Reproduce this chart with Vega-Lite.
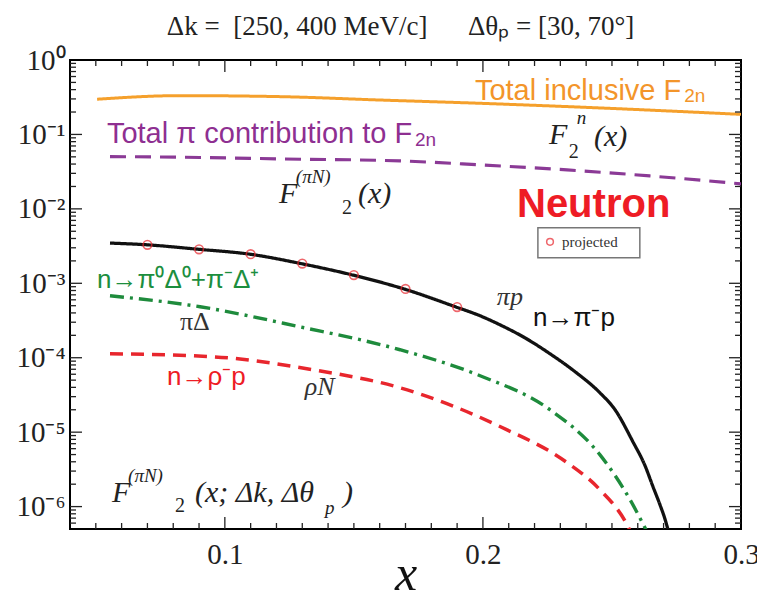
{
  "$schema": "https://vega.github.io/schema/vega-lite/v6.json",
  "width": 671,
  "height": 469,
  "autosize": "none",
  "padding": {"left": 70, "top": 60, "right": 16, "bottom": 65},
  "background": "white",
  "config": {"view": {"stroke": "black", "strokeWidth": 2}},
  "title": {
    "text": "Δk =\u00a0\u00a0[250, 400 MeV/c]\u00a0\u00a0\u00a0\u00a0\u00a0\u00a0Δθₚ = [30, 70°]",
    "font": "Liberation Serif", "fontSize": 27, "fontWeight": "normal", "color": "#222",
    "anchor": "middle", "frame": "group", "offset": 5, "dx": -5
  },
  "resolve": {"axis": {"x": "independent", "y": "independent"}},
  "datasets": {
    "curves": [
      {"series": "total", "x": 0.0505, "y": 0.297},
      {"series": "total", "x": 0.0826, "y": 0.332},
      {"series": "total", "x": 0.1214, "y": 0.322},
      {"series": "total", "x": 0.1601, "y": 0.29},
      {"series": "total", "x": 0.1989, "y": 0.262},
      {"series": "total", "x": 0.2453, "y": 0.227},
      {"series": "total", "x": 0.3, "y": 0.186},
      {"series": "pi", "x": 0.0555, "y": 0.0504},
      {"series": "pi", "x": 0.0904, "y": 0.049},
      {"series": "pi", "x": 0.1214, "y": 0.0469},
      {"series": "pi", "x": 0.1679, "y": 0.0441},
      {"series": "pi", "x": 0.1989, "y": 0.039},
      {"series": "pi", "x": 0.2326, "y": 0.0334},
      {"series": "pi", "x": 0.2647, "y": 0.0277},
      {"series": "pi", "x": 0.3, "y": 0.0217},
      {"series": "piN", "x": 0.0555, "y": 0.00347},
      {"series": "piN", "x": 0.0698, "y": 0.00329},
      {"series": "piN", "x": 0.09, "y": 0.00286},
      {"series": "piN", "x": 0.1097, "y": 0.00246},
      {"series": "piN", "x": 0.1295, "y": 0.00184},
      {"series": "piN", "x": 0.1496, "y": 0.00129},
      {"series": "piN", "x": 0.1694, "y": 0.00084},
      {"series": "piN", "x": 0.1896, "y": 0.00048},
      {"series": "piN", "x": 0.1989, "y": 0.000366},
      {"series": "piN", "x": 0.2066, "y": 0.000277},
      {"series": "piN", "x": 0.2163, "y": 0.000185},
      {"series": "piN", "x": 0.226, "y": 0.000113},
      {"series": "piN", "x": 0.2357, "y": 0.0000649},
      {"series": "piN", "x": 0.2453, "y": 0.0000339},
      {"series": "piN", "x": 0.2512, "y": 0.00002},
      {"series": "piN", "x": 0.2581, "y": 0.00000745},
      {"series": "piN", "x": 0.2628, "y": 0.00000355},
      {"series": "piN", "x": 0.2659, "y": 0.00000185},
      {"series": "piN", "x": 0.2686, "y": 0.00000106},
      {"series": "piN", "x": 0.2706, "y": 0.00000067},
      {"series": "piN", "x": 0.2721, "y": 0.000000435},
      {"series": "piDelta", "x": 0.0555, "y": 0.00068},
      {"series": "piDelta", "x": 0.0904, "y": 0.000484},
      {"series": "piDelta", "x": 0.1291, "y": 0.00026},
      {"series": "piDelta", "x": 0.1679, "y": 0.000128},
      {"series": "piDelta", "x": 0.1989, "y": 0.0000573},
      {"series": "piDelta", "x": 0.226, "y": 0.00002},
      {"series": "piDelta", "x": 0.2453, "y": 0.00000499},
      {"series": "piDelta", "x": 0.257, "y": 0.00000124},
      {"series": "piDelta", "x": 0.2628, "y": 0.00000052},
      {"series": "piDelta", "x": 0.2645, "y": 0.0000004},
      {"series": "rhoN", "x": 0.0555, "y": 0.000113},
      {"series": "rhoN", "x": 0.0954, "y": 0.000103},
      {"series": "rhoN", "x": 0.1341, "y": 0.000069},
      {"series": "rhoN", "x": 0.1679, "y": 0.0000395},
      {"series": "rhoN", "x": 0.2066, "y": 0.0000119},
      {"series": "rhoN", "x": 0.2326, "y": 0.0000039},
      {"series": "rhoN", "x": 0.2453, "y": 0.00000169},
      {"series": "rhoN", "x": 0.2562, "y": 0.00000054},
      {"series": "rhoN", "x": 0.2577, "y": 0.00000042}
    ],
    "projected": [
      {"x": 0.07, "y": 0.00329},
      {"x": 0.09, "y": 0.00286},
      {"x": 0.11, "y": 0.00246},
      {"x": 0.13, "y": 0.00184},
      {"x": 0.15, "y": 0.00129},
      {"x": 0.17, "y": 0.00084},
      {"x": 0.19, "y": 0.00048}
    ],
    "yminor": [
      {"v": 6e-7}, {"v": 7e-7}, {"v": 8e-7}, {"v": 9e-7},
      {"v": 2e-6}, {"v": 3e-6}, {"v": 4e-6}, {"v": 5e-6}, {"v": 6e-6}, {"v": 7e-6}, {"v": 8e-6}, {"v": 9e-6},
      {"v": 2e-5}, {"v": 3e-5}, {"v": 4e-5}, {"v": 5e-5}, {"v": 6e-5}, {"v": 7e-5}, {"v": 8e-5}, {"v": 9e-5},
      {"v": 2e-4}, {"v": 3e-4}, {"v": 4e-4}, {"v": 5e-4}, {"v": 6e-4}, {"v": 7e-4}, {"v": 8e-4}, {"v": 9e-4},
      {"v": 2e-3}, {"v": 3e-3}, {"v": 4e-3}, {"v": 5e-3}, {"v": 6e-3}, {"v": 7e-3}, {"v": 8e-3}, {"v": 9e-3},
      {"v": 2e-2}, {"v": 3e-2}, {"v": 4e-2}, {"v": 5e-2}, {"v": 6e-2}, {"v": 7e-2}, {"v": 8e-2}, {"v": 9e-2},
      {"v": 0.2}, {"v": 0.3}, {"v": 0.4}, {"v": 0.5}, {"v": 0.6}, {"v": 0.7}, {"v": 0.8}, {"v": 0.9}
    ],
    "ymajor": [{"v": 1e-6}, {"v": 1e-5}, {"v": 1e-4}, {"v": 1e-3}, {"v": 1e-2}, {"v": 0.1}],
    "xminor": [
      {"v": 0.05}, {"v": 0.06}, {"v": 0.07}, {"v": 0.08}, {"v": 0.09},
      {"v": 0.11}, {"v": 0.12}, {"v": 0.13}, {"v": 0.14}, {"v": 0.15}, {"v": 0.16}, {"v": 0.17}, {"v": 0.18}, {"v": 0.19},
      {"v": 0.21}, {"v": 0.22}, {"v": 0.23}, {"v": 0.24}, {"v": 0.25}, {"v": 0.26}, {"v": 0.27}, {"v": 0.28}, {"v": 0.29}
    ],
    "xmajor": [{"v": 0.1}, {"v": 0.2}]
  },
  "layer": [
    {
      "data": {"name": "curves"},
      "mark": {"type": "line", "interpolate": "monotone", "clip": true},
      "encoding": {
        "x": {"field": "x", "type": "quantitative", "scale": {"domain": [0.04, 0.3], "nice": false, "zero": false},
          "axis": {"orient": "bottom", "title": "x", "domain": false, "ticks": false,
            "values": [0.1, 0.2, 0.3],
            "format": ".1f",
            "labelFont": "Liberation Serif", "labelFontSize": 29, "labelColor": "#222", "labelFlush": false, "labelOverlap": false, "labelBound": false,
            "labelPadding": 11, "labelBaseline": "top",
            "titleFont": "Liberation Serif", "titleFontStyle": "italic", "titleFontWeight": "normal", "titleFontSize": 50, "titleColor": "#111",
            "titleBaseline": "alphabetic", "titleY": 60, "grid": false}},
        "y": {"field": "y", "type": "quantitative", "scale": {"type": "log", "domain": [5e-7, 1], "nice": false},
          "axis": {"orient": "left", "title": null, "domain": false, "ticks": false,
            "values": [1e-6, 1e-5, 1e-4, 1e-3, 1e-2, 0.1, 1],
            "labelExpr": "'10' + ['⁰','⁻¹','⁻²','⁻³','⁻⁴','⁻⁵','⁻⁶'][round(-log(datum.value)/LN10)]",
            "labelFont": "Liberation Serif", "labelFontSize": 29, "labelColor": "#222", "labelFlush": false, "labelOverlap": false, "labelBound": false,
            "labelPadding": 5,
            "grid": false}},
        "color": {"field": "series", "type": "nominal", "legend": null,
          "scale": {"domain": ["total", "pi", "piN", "piDelta", "rhoN"], "range": ["#F5A02C", "#8B3A96", "#111111", "#1E8B3C", "#E8262D"]}},
        "strokeDash": {"field": "series", "type": "nominal", "legend": null,
          "scale": {"domain": ["total", "pi", "piN", "piDelta", "rhoN"], "range": [[1, 0], [16, 9], [1, 0], [14, 6, 3, 6], [13, 8]]}},
        "strokeWidth": {"field": "series", "type": "nominal", "legend": null,
          "scale": {"domain": ["total", "pi", "piN", "piDelta", "rhoN"], "range": [3, 3.5, 2.5, 3, 3]}}
      }
    },
    {
      "data": {"name": "yminor"},
      "layer": [
        {"mark": {"type": "rule", "color": "#222", "strokeWidth": 1.3},
         "encoding": {
           "y": {"field": "v", "type": "quantitative", "scale": {"type": "log", "domain": [5e-7, 1], "nice": false}, "axis": null},
           "x": {"datum": 0.04, "type": "quantitative", "scale": {"domain": [0.04, 0.3], "nice": false, "zero": false}, "axis": null},
           "x2": {"datum": 0.04232}}},
        {"mark": {"type": "rule", "color": "#222", "strokeWidth": 1.3},
         "encoding": {
           "y": {"field": "v", "type": "quantitative", "scale": {"type": "log", "domain": [5e-7, 1], "nice": false}, "axis": null},
           "x": {"datum": 0.3, "type": "quantitative", "scale": {"domain": [0.04, 0.3], "nice": false, "zero": false}, "axis": null},
           "x2": {"datum": 0.29768}}}
      ]
    },
    {
      "data": {"name": "ymajor"},
      "layer": [
        {"mark": {"type": "rule", "color": "#222", "strokeWidth": 1.3},
         "encoding": {
           "y": {"field": "v", "type": "quantitative", "scale": {"type": "log", "domain": [5e-7, 1], "nice": false}, "axis": null},
           "x": {"datum": 0.04, "type": "quantitative", "scale": {"domain": [0.04, 0.3], "nice": false, "zero": false}, "axis": null},
           "x2": {"datum": 0.04465}}},
        {"mark": {"type": "rule", "color": "#222", "strokeWidth": 1.3},
         "encoding": {
           "y": {"field": "v", "type": "quantitative", "scale": {"type": "log", "domain": [5e-7, 1], "nice": false}, "axis": null},
           "x": {"datum": 0.3, "type": "quantitative", "scale": {"domain": [0.04, 0.3], "nice": false, "zero": false}, "axis": null},
           "x2": {"datum": 0.29535}}}
      ]
    },
    {
      "data": {"name": "xminor"},
      "layer": [
        {"mark": {"type": "rule", "color": "#222", "strokeWidth": 1.3},
         "encoding": {
           "x": {"field": "v", "type": "quantitative", "scale": {"domain": [0.04, 0.3], "nice": false, "zero": false}, "axis": null},
           "y": {"datum": 5e-7, "type": "quantitative", "scale": {"type": "log", "domain": [5e-7, 1], "nice": false}, "axis": null},
           "y2": {"datum": 6.02e-7}}},
        {"mark": {"type": "rule", "color": "#222", "strokeWidth": 1.3},
         "encoding": {
           "x": {"field": "v", "type": "quantitative", "scale": {"domain": [0.04, 0.3], "nice": false, "zero": false}, "axis": null},
           "y": {"datum": 1, "type": "quantitative", "scale": {"type": "log", "domain": [5e-7, 1], "nice": false}, "axis": null},
           "y2": {"datum": 0.8309}}}
      ]
    },
    {
      "data": {"name": "xmajor"},
      "layer": [
        {"mark": {"type": "rule", "color": "#222", "strokeWidth": 1.3},
         "encoding": {
           "x": {"field": "v", "type": "quantitative", "scale": {"domain": [0.04, 0.3], "nice": false, "zero": false}, "axis": null},
           "y": {"datum": 5e-7, "type": "quantitative", "scale": {"type": "log", "domain": [5e-7, 1], "nice": false}, "axis": null},
           "y2": {"datum": 7.24e-7}}},
        {"mark": {"type": "rule", "color": "#222", "strokeWidth": 1.3},
         "encoding": {
           "x": {"field": "v", "type": "quantitative", "scale": {"domain": [0.04, 0.3], "nice": false, "zero": false}, "axis": null},
           "y": {"datum": 1, "type": "quantitative", "scale": {"type": "log", "domain": [5e-7, 1], "nice": false}, "axis": null},
           "y2": {"datum": 0.6904}}}
      ]
    },
    {
      "data": {"name": "projected"},
      "mark": {"type": "point", "shape": "circle", "filled": false, "color": "#E8262D", "size": 75, "strokeWidth": 1.6},
      "encoding": {
        "x": {"field": "x", "type": "quantitative", "scale": {"domain": [0.04, 0.3], "nice": false, "zero": false}, "axis": null},
        "y": {"field": "y", "type": "quantitative", "scale": {"type": "log", "domain": [5e-7, 1], "nice": false}, "axis": null}
      }
    },
    {
      "data": {"values": [{}]},
      "mark": {"type": "rect", "fill": "white", "stroke": "#777", "strokeWidth": 1.5},
      "encoding": {
        "x": {"datum": 0.2213, "type": "quantitative", "scale": {"domain": [0.04, 0.3], "nice": false, "zero": false}, "axis": null},
        "x2": {"datum": 0.2608},
        "y": {"datum": 0.00556, "type": "quantitative", "scale": {"type": "log", "domain": [5e-7, 1], "nice": false}, "axis": null},
        "y2": {"datum": 0.0022}
      }
    },
    {
      "data": {"values": [{}]},
      "mark": {"type": "point", "shape": "circle", "filled": false, "color": "#E8262D", "size": 45, "strokeWidth": 1.5},
      "encoding": {
        "x": {"datum": 0.226, "type": "quantitative", "scale": {"domain": [0.04, 0.3], "nice": false, "zero": false}, "axis": null},
        "y": {"datum": 0.00361, "type": "quantitative", "scale": {"type": "log", "domain": [5e-7, 1], "nice": false}, "axis": null}
      }
    },
    {
      "data": {"values": [{"t": "projected", "x": 0.2306, "y": 0.00309}]},
      "mark": {"type": "text", "align": "left", "baseline": "alphabetic", "font": "Liberation Serif", "fontSize": 15, "color": "#333"},
      "encoding": {
        "x": {"field": "x", "type": "quantitative", "scale": {"domain": [0.04, 0.3], "nice": false, "zero": false}, "axis": null},
        "y": {"field": "y", "type": "quantitative", "scale": {"type": "log", "domain": [5e-7, 1], "nice": false}, "axis": null},
        "text": {"field": "t"}
      }
    },
    {
      "data": {"values": [{"t": "Total inclusive F", "x": 0.1969, "y": 0.2904}]},
      "mark": {"type": "text", "align": "left", "baseline": "alphabetic", "font": "Liberation Sans", "fontSize": 29, "color": "#F3952A"},
      "encoding": {
        "x": {"field": "x", "type": "quantitative", "scale": {"domain": [0.04, 0.3], "nice": false, "zero": false}, "axis": null},
        "y": {"field": "y", "type": "quantitative", "scale": {"type": "log", "domain": [5e-7, 1], "nice": false}, "axis": null},
        "text": {"field": "t"}
      }
    },
    {
      "data": {"values": [{"t": "2n", "x": 0.278, "y": 0.273}]},
      "mark": {"type": "text", "align": "left", "baseline": "alphabetic", "font": "Liberation Sans", "fontSize": 19, "color": "#F3952A"},
      "encoding": {
        "x": {"field": "x", "type": "quantitative", "scale": {"domain": [0.04, 0.3], "nice": false, "zero": false}, "axis": null},
        "y": {"field": "y", "type": "quantitative", "scale": {"type": "log", "domain": [5e-7, 1], "nice": false}, "axis": null},
        "text": {"field": "t"}
      }
    },
    {
      "data": {"values": [{"t": "Total π contribution to F", "x": 0.0543, "y": 0.0769}]},
      "mark": {"type": "text", "align": "left", "baseline": "alphabetic", "font": "Liberation Sans", "fontSize": 29, "color": "#8E2F91"},
      "encoding": {
        "x": {"field": "x", "type": "quantitative", "scale": {"domain": [0.04, 0.3], "nice": false, "zero": false}, "axis": null},
        "y": {"field": "y", "type": "quantitative", "scale": {"type": "log", "domain": [5e-7, 1], "nice": false}, "axis": null},
        "text": {"field": "t"}
      }
    },
    {
      "data": {"values": [{"t": "2n", "x": 0.1737, "y": 0.0701}]},
      "mark": {"type": "text", "align": "left", "baseline": "alphabetic", "font": "Liberation Sans", "fontSize": 19, "color": "#8E2F91"},
      "encoding": {
        "x": {"field": "x", "type": "quantitative", "scale": {"domain": [0.04, 0.3], "nice": false, "zero": false}, "axis": null},
        "y": {"field": "y", "type": "quantitative", "scale": {"type": "log", "domain": [5e-7, 1], "nice": false}, "axis": null},
        "text": {"field": "t"}
      }
    },
    {
      "data": {"values": [
        {"t": "F", "x": 0.2256, "y": 0.0746},
        {"t": "(x)", "x": 0.243, "y": 0.0701},
        {"t": "F", "x": 0.121, "y": 0.01204},
        {"t": "(x)", "x": 0.1516, "y": 0.01204},
        {"t": "F", "x": 0.0563, "y": 0.00000117},
        {"t": "(x; Δk, Δθ", "x": 0.0884, "y": 0.00000117},
        {"t": ")", "x": 0.1458, "y": 0.00000117}
      ]},
      "mark": {"type": "text", "align": "left", "baseline": "alphabetic", "font": "Liberation Serif", "fontStyle": "italic", "fontSize": 30, "color": "#222"},
      "encoding": {
        "x": {"field": "x", "type": "quantitative", "scale": {"domain": [0.04, 0.3], "nice": false, "zero": false}, "axis": null},
        "y": {"field": "y", "type": "quantitative", "scale": {"type": "log", "domain": [5e-7, 1], "nice": false}, "axis": null},
        "text": {"field": "t"}
      }
    },
    {
      "data": {"values": [
        {"t": "n", "x": 0.2364, "y": 0.1384},
        {"t": "(πN)", "x": 0.1275, "y": 0.02234},
        {"t": "(πN)", "x": 0.0625, "y": 0.00000217},
        {"t": "p", "x": 0.1388, "y": 0.000000805}
      ]},
      "mark": {"type": "text", "align": "left", "baseline": "alphabetic", "font": "Liberation Serif", "fontStyle": "italic", "fontSize": 19, "color": "#222"},
      "encoding": {
        "x": {"field": "x", "type": "quantitative", "scale": {"domain": [0.04, 0.3], "nice": false, "zero": false}, "axis": null},
        "y": {"field": "y", "type": "quantitative", "scale": {"type": "log", "domain": [5e-7, 1], "nice": false}, "axis": null},
        "text": {"field": "t"}
      }
    },
    {
      "data": {"values": [
        {"t": "2", "x": 0.2333, "y": 0.0484},
        {"t": "2", "x": 0.1454, "y": 0.00857},
        {"t": "2", "x": 0.0807, "y": 0.000000857}
      ]},
      "mark": {"type": "text", "align": "left", "baseline": "alphabetic", "font": "Liberation Serif", "fontSize": 20, "color": "#222"},
      "encoding": {
        "x": {"field": "x", "type": "quantitative", "scale": {"domain": [0.04, 0.3], "nice": false, "zero": false}, "axis": null},
        "y": {"field": "y", "type": "quantitative", "scale": {"type": "log", "domain": [5e-7, 1], "nice": false}, "axis": null},
        "text": {"field": "t"}
      }
    },
    {
      "data": {"values": [{"t": "Neutron", "x": 0.2132, "y": 0.00781}]},
      "mark": {"type": "text", "align": "left", "baseline": "alphabetic", "font": "Liberation Sans", "fontWeight": "bold", "fontSize": 40, "color": "#EE1C25"},
      "encoding": {
        "x": {"field": "x", "type": "quantitative", "scale": {"domain": [0.04, 0.3], "nice": false, "zero": false}, "axis": null},
        "y": {"field": "y", "type": "quantitative", "scale": {"type": "log", "domain": [5e-7, 1], "nice": false}, "axis": null},
        "text": {"field": "t"}
      }
    },
    {
      "data": {"values": [{"t": "n→π⁰Δ⁰+π⁻Δ⁺", "x": 0.0505, "y": 0.00087}]},
      "mark": {"type": "text", "align": "left", "baseline": "alphabetic", "font": "Liberation Sans", "fontSize": 26, "color": "#1C8E3E"},
      "encoding": {
        "x": {"field": "x", "type": "quantitative", "scale": {"domain": [0.04, 0.3], "nice": false, "zero": false}, "axis": null},
        "y": {"field": "y", "type": "quantitative", "scale": {"type": "log", "domain": [5e-7, 1], "nice": false}, "axis": null},
        "text": {"field": "t"}
      }
    },
    {
      "data": {"values": [{"t": "n→ρ⁻p", "x": 0.0776, "y": 0.0000434}]},
      "mark": {"type": "text", "align": "left", "baseline": "alphabetic", "font": "Liberation Sans", "fontSize": 26, "color": "#EE1C25"},
      "encoding": {
        "x": {"field": "x", "type": "quantitative", "scale": {"domain": [0.04, 0.3], "nice": false, "zero": false}, "axis": null},
        "y": {"field": "y", "type": "quantitative", "scale": {"type": "log", "domain": [5e-7, 1], "nice": false}, "axis": null},
        "text": {"field": "t"}
      }
    },
    {
      "data": {"values": [{"t": "n→π⁻p", "x": 0.2194, "y": 0.000269}]},
      "mark": {"type": "text", "align": "left", "baseline": "alphabetic", "font": "Liberation Sans", "fontSize": 26, "color": "#111"},
      "encoding": {
        "x": {"field": "x", "type": "quantitative", "scale": {"domain": [0.04, 0.3], "nice": false, "zero": false}, "axis": null},
        "y": {"field": "y", "type": "quantitative", "scale": {"type": "log", "domain": [5e-7, 1], "nice": false}, "axis": null},
        "text": {"field": "t"}
      }
    },
    {
      "data": {"values": [{"t": "πΔ", "x": 0.0826, "y": 0.000238}]},
      "mark": {"type": "text", "align": "left", "baseline": "alphabetic", "font": "Liberation Serif", "fontSize": 26, "color": "#333"},
      "encoding": {
        "x": {"field": "x", "type": "quantitative", "scale": {"domain": [0.04, 0.3], "nice": false, "zero": false}, "axis": null},
        "y": {"field": "y", "type": "quantitative", "scale": {"type": "log", "domain": [5e-7, 1], "nice": false}, "axis": null},
        "text": {"field": "t"}
      }
    },
    {
      "data": {"values": [{"t": "ρN", "x": 0.131, "y": 0.0000319}, {"t": "πp", "x": 0.2054, "y": 0.000514}]},
      "mark": {"type": "text", "align": "left", "baseline": "alphabetic", "font": "Liberation Serif", "fontStyle": "italic", "fontSize": 26, "color": "#333"},
      "encoding": {
        "x": {"field": "x", "type": "quantitative", "scale": {"domain": [0.04, 0.3], "nice": false, "zero": false}, "axis": null},
        "y": {"field": "y", "type": "quantitative", "scale": {"type": "log", "domain": [5e-7, 1], "nice": false}, "axis": null},
        "text": {"field": "t"}
      }
    }
  ]
}
